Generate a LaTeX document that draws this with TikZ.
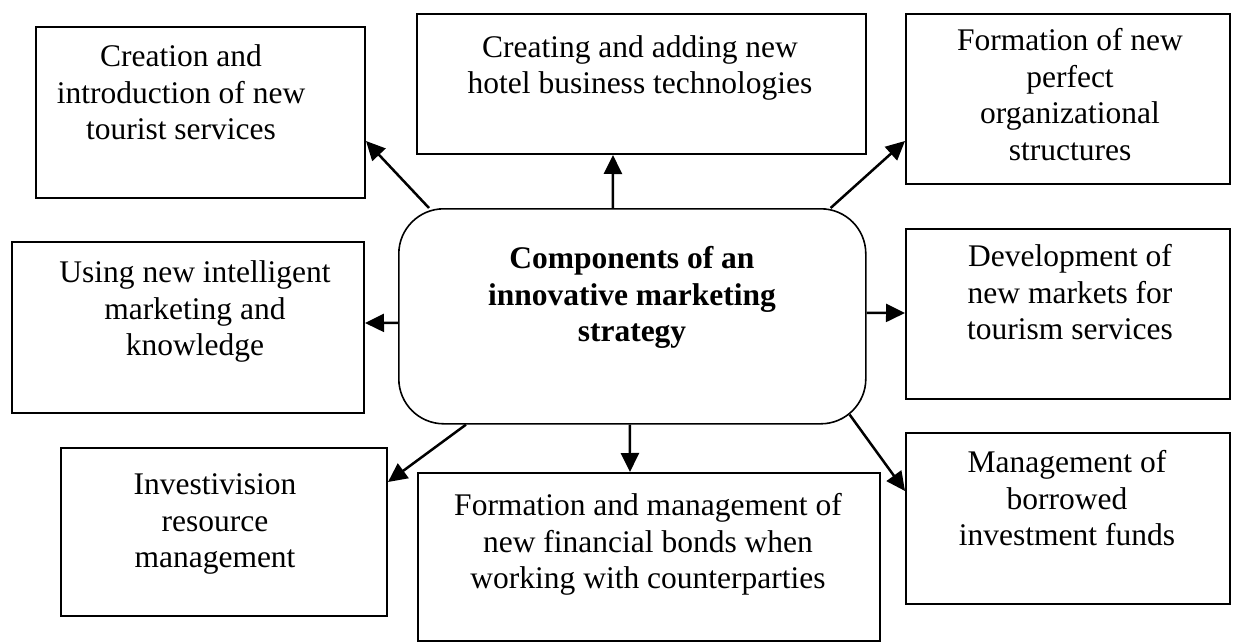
\documentclass[tikz,border=0pt]{standalone}
\usepackage{fontspec}
\setmainfont{Liberation Serif}
\usetikzlibrary{arrows.meta,calc}
\begin{document}
\begin{tikzpicture}[x=1pt,y=-1pt,
  box/.style={draw, line width=2pt, rectangle, inner sep=0pt, anchor=north west},
  txt/.style={anchor=north, align=center, inner sep=0pt, font=\fontsize{31.5}{36.5}\selectfont},
  arr/.style={line width=2.5pt, -{Triangle[length=19pt,width=18pt]}}]
\useasboundingbox (0,0) rectangle (1233,642);
% boxes
\node[box, minimum width=329pt, minimum height=171pt] (tl) at (35,26) {};
\node[box, minimum width=449pt, minimum height=140pt] (tm) at (416,13) {};
\node[box, minimum width=324pt, minimum height=170pt] (tr) at (905,13) {};
\node[box, minimum width=352pt, minimum height=171pt] (ml) at (11,241) {};
\node[draw, line width=1.6pt, rectangle, rounded corners=45pt, inner sep=0pt, anchor=north west,
      minimum width=467pt, minimum height=215pt] (c) at (398,208) {};
\node[box, minimum width=324pt, minimum height=170pt] (mr) at (905,228) {};
\node[box, minimum width=326pt, minimum height=168pt] (bl) at (60,447) {};
\node[box, minimum width=462pt, minimum height=168pt] (bm) at (417,472) {};
\node[box, minimum width=324pt, minimum height=171pt] (br) at (905,432) {};
% texts
\node[txt] (tlt) at (181,44.5) {Creation and\\introduction of new\\tourist services};
\node[txt] (tmt) at (640,35) {Creating and adding new\\hotel business technologies};
\node[txt] (trt) at (1070,28.5) {Formation of new\\perfect\\organizational\\structures};
\node[txt] (mlt) at (195,260.5) {Using new intelligent\\marketing and\\knowledge};
\node[txt, font=\fontsize{31.5}{36.5}\selectfont\bfseries] (ct) at (632,246.5) {Components of an\\innovative marketing\\strategy};
\node[txt] (mrt) at (1070,244.5) {Development of\\new markets for\\tourism services};
\node[txt] (blt) at (215,473.5) {Investivision\\resource\\management};
\node[txt] (bmt) at (648,493.5) {Formation and management of\\new financial bonds when\\working with counterparties};
\node[txt] (brt) at (1067,450.5) {Management of\\borrowed\\investment funds};
% arrows
\draw[arr] ([xshift=31pt]c.north west) -- ([yshift=-28.5pt]tl.east);
\draw[arr] ([xshift=-19.5pt]c.north) -- ([xshift=-28.5pt]tm.south);
\draw[arr] ([xshift=-36pt]c.north east) -- ([yshift=-42pt]tr.west);
\draw[arr] ([yshift=-6.5pt]c.west) -- ([yshift=4.5pt]ml.east);
\draw[arr] ([yshift=3.5pt]c.east) -- ([yshift=1pt]mr.west);
\draw[arr] ([xshift=68pt]c.south west) -- ([yshift=50pt]bl.east);
\draw[arr] ([xshift=-2.5pt]c.south) -- ([xshift=-19pt]bm.north);
\draw[arr] ([xshift=-17pt,yshift=10pt]c.south east) -- ([yshift=27.5pt]br.west);
\end{tikzpicture}
\end{document}
